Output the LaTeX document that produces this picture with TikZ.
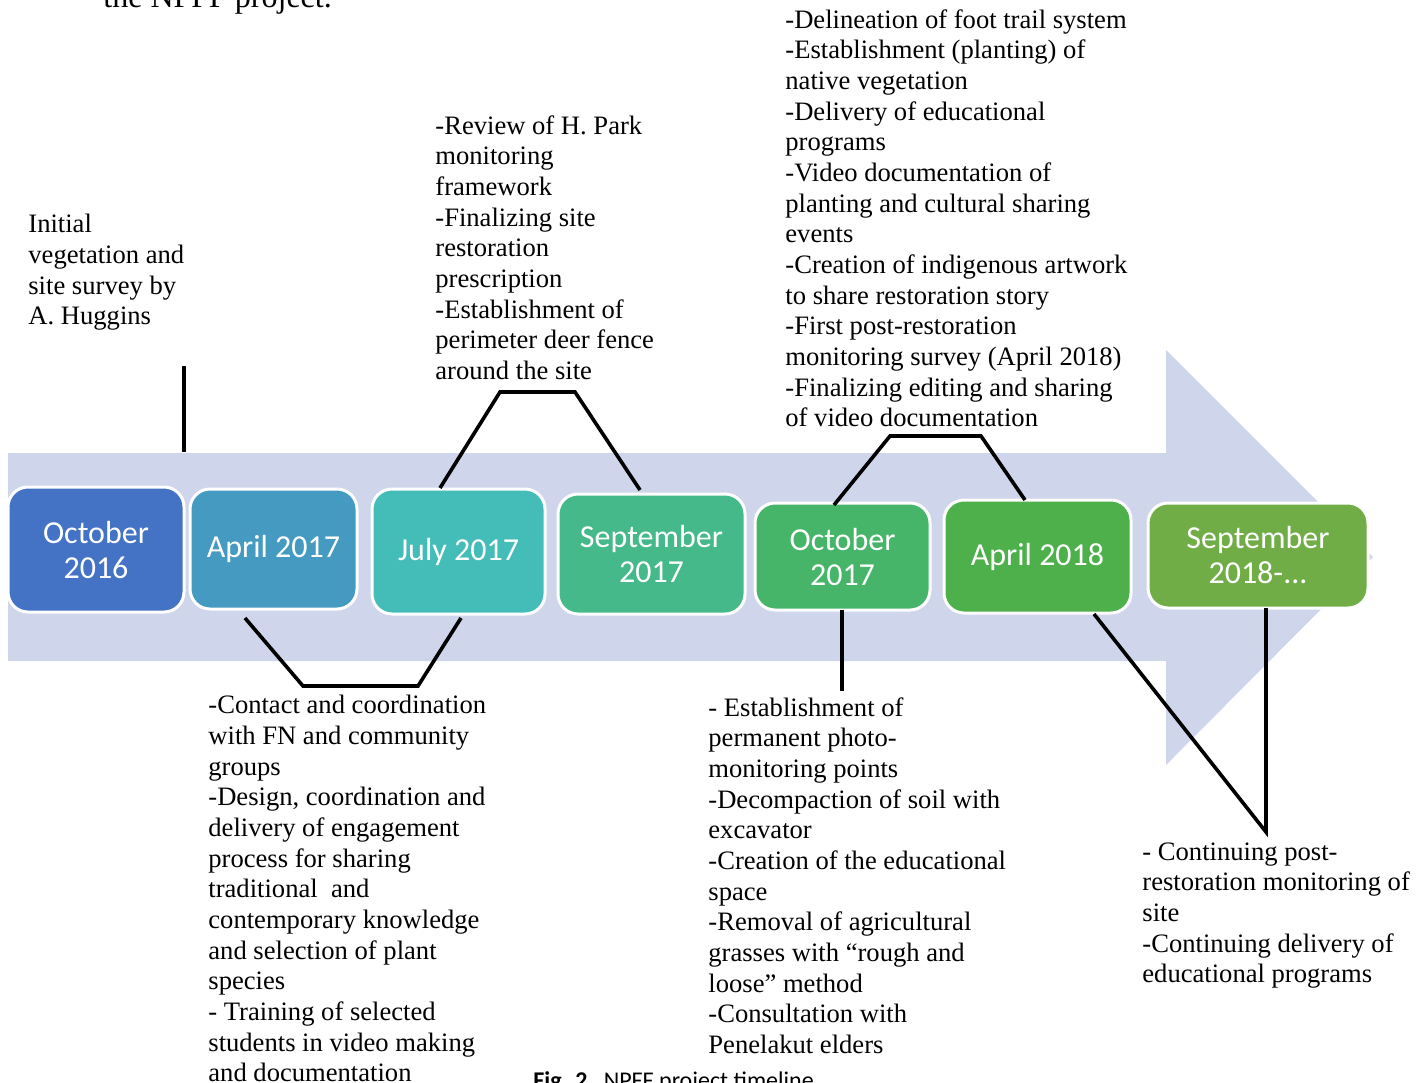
\documentclass[tikz,border=0pt]{standalone}
\usepackage{fontspec}
\setmainfont{Liberation Serif}
\newfontfamily\boxfnt{Carlito}
\usetikzlibrary{positioning}
\definecolor{band}{HTML}{CFD5EA}
\definecolor{cA}{HTML}{4472C4}
\definecolor{cB}{HTML}{449AC1}
\definecolor{cC}{HTML}{44BDB8}
\definecolor{cD}{HTML}{45B98A}
\definecolor{cE}{HTML}{47B569}
\definecolor{cF}{HTML}{4DB04B}
\definecolor{cG}{HTML}{70AD47}
\tikzset{
  dt/.style ={draw=white, line width=1.5pt, rounded corners=10pt, text=white, align=center,
              inner sep=1pt, font=\boxfnt\fontsize{16}{17.5}\selectfont},
  tx/.style ={anchor=north west, align=left, inner sep=0pt, font=\fontsize{13.3}{15.33}\selectfont},
  ln/.style ={line width=1.8pt}
}
\begin{document}
\begin{tikzpicture}[x=0.5pt,y=-0.5pt]
\useasboundingbox (0,0) rectangle (1428,1082);
\fill[band] (8,453) -- (1166,453) -- (1166,350) -- (1373,557) -- (1166,765) -- (1166,661) -- (8,661) -- cycle;

\node[dt, fill=cA, minimum width=88pt,   minimum height=62.5pt] (oct16) at (96,549.5)   {October\\2016};
\node[dt, fill=cB, minimum width=83.5pt, minimum height=60pt]   (apr17) at (273.5,549)  {April 2017};
\node[dt, fill=cC, minimum width=86.5pt, minimum height=62.5pt] (jul17) at (458.5,551.5) {July 2017};
\node[dt, fill=cD, minimum width=93.5pt, minimum height=60pt]   (sep17) at (651.5,554)  {September\\2017};
\node[dt, fill=cE, minimum width=87.5pt, minimum height=53.5pt] (oct17) at (842.5,556.5) {October\\2017};
\node[dt, fill=cF, minimum width=93.5pt, minimum height=56.5pt] (apr18) at (1037.5,556.5) {April 2018};
\node[dt, fill=cG, minimum width=110pt,  minimum height=52.5pt] (sep18) at (1258,555.5) {September\\2018-...};

\node[anchor=base west, inner sep=0pt, font=\fontsize{16}{18}\selectfont] (head) at (103,7) {the NPFF project.};
\node[anchor=base west, inner sep=0pt, font=\boxfnt\fontsize{12}{14}\selectfont] (cap) at (533,1088) {\textbf{Fig. 2}\ \ \ NPFF project timeline};

\node[tx] (t1) at (28,214) {Initial\\vegetation and\\site survey by\\A. Huggins};
\node[tx] (t2) at (435,115) {-Review of H. Park\\monitoring\\framework\\-Finalizing site\\restoration\\prescription\\-Establishment of\\perimeter deer fence\\around the site};
\node[tx] (t3) at (785,9) {-Delineation of foot trail system\\-Establishment (planting) of\\native vegetation\\-Delivery of educational\\programs\\-Video documentation of\\planting and cultural sharing\\events\\-Creation of indigenous artwork\\to share restoration story\\-First post-restoration\\monitoring survey (April 2018)\\-Finalizing editing and sharing\\of video documentation};
\node[tx] (b1) at (208,695) {-Contact and coordination\\with FN and community\\groups\\-Design, coordination and\\delivery of engagement\\process for sharing\\traditional~ and\\contemporary knowledge\\and selection of plant\\species\\- Training of selected\\students in video making\\and documentation};
\node[tx] (b2) at (708,697) {- Establishment of\\permanent photo-\\monitoring points\\-Decompaction of soil with\\excavator\\-Creation of the educational\\space\\-Removal of agricultural\\grasses with “rough and\\loose” method\\-Consultation with\\Penelakut elders};
\node[tx] (b3) at (1142,842) {- Continuing post-\\restoration monitoring of\\site\\-Continuing delivery of\\educational programs};

\coordinate (p1) at (184,366);
\coordinate (p2) at (184,452);
\coordinate (q1) at (245,618);
\coordinate (q2) at (303,686);
\coordinate (q3) at (418,686);
\coordinate (q4) at (461,618);
\coordinate (r1) at (440,488);
\coordinate (r2) at (500,392);
\coordinate (r3) at (575,392);
\coordinate (r4) at (640,490);
\coordinate (s1) at (834,505);
\coordinate (s2) at (890,436);
\coordinate (s3) at (981,436);
\coordinate (s4) at (1025,500);
\coordinate (u1) at (842,610);
\coordinate (u2) at (842,691);
\coordinate (v1) at (1094,614);
\coordinate (v2) at (1266,832);
\coordinate (v3) at (1266,608);

\draw[ln] (p1) -- (p2);
\draw[ln] (q1) -- (q2) -- (q3) -- (q4);
\draw[ln] (r1) -- (r2) -- (r3) -- (r4);
\draw[ln] (s1) -- (s2) -- (s3) -- (s4);
\draw[ln] (u1) -- (u2);
\draw[ln] (v1) -- (v2) -- (v3);
\end{tikzpicture}
\end{document}
